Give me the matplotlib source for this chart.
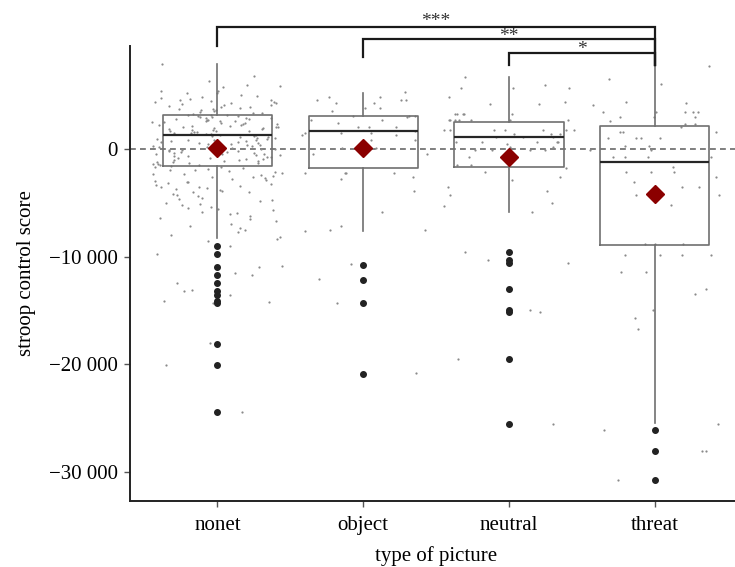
import matplotlib.pyplot as plt
import numpy as np
import pandas as pd
import seaborn as sns

# Data
categories = ['nonet', 'object', 'neutral', 'threat']
q1 = [-1580, -1770, -1670, -8930]
medians = [1300, 1670, 1120, -1210]
q3 = [3160, 3070, 2510, 2140]
whisker_low = [-8280, -7630, -5860, -25480]
whisker_high = [7900, 5210, 6700, 7810]
means = [90, 90, -740, -4190]
outliers = [
    [-9020, -9770, -10970, -11720, -12460, -13210, -13580, -14140, -14320, -18140, -20090, -24460],
    [-10790, -12180, -14320, -20930],
    [-9580, -10320, -10600, -13020, -14970, -15160, -19530, -25580],
    [-26130, -28090, -30780],
]

nonet_scores = [
    7880, 6820, 6350, 5920, 5870, 5810, 5430, 5360, 5240, 5190, 4980, 4930, 4870, 4710, 4690,
    4560, 4520, 4480, 4410, 4390, 4320, 4260, 4170, 4120, 4080, 3990, 3940, 3870, 3820, 3760,
    3710, 3640, 3590, 3510, 3430, 3380, 3320, 3270,
    3190, 3150, 3120, 3080, 3040, 2990, 2960, 2910, 2880, 2840, 2790, 2750, 2720, 2680, 2630,
    2590, 2560, 2510, 2470, 2430, 2380, 2350, 2300, 2270, 2210, 2180, 2140, 2090, 2050, 2010,
    1970, 1920, 1880, 1850, 1790, 1760, 1710, 1680, 1640, 1590, 1550, 1510, 1470, 1420, 1380,
    1340, 1290, 1260, 1220, 1170, 1130, 1090, 1040, 1000, 960, 920, 870, 830, 790, 740, 700,
    660, 610, 570, 530, 490, 440, 400, 360, 310, 270, 230, 180, 140, 100, 60, 10, -30, -80,
    -120, -160, -210, -250, -290, -340, -380, -420, -470, -510, -550, -600, -640, -690, -730,
    -770, -820, -860, -910, -950, -990, -1040, -1090, -1130, -1180, -1220, -1270, -1320, -1370,
    -1420, -1480, -1530, -1590,
    -1650, -1720, -1780, -1850, -1930, -1990, -2070, -2140, -2200, -2290, -2360, -2420, -2510,
    -2580, -2650, -2730, -2800, -2880, -2950, -3030, -3110, -3180, -3260, -3340, -3410, -3490,
    -3570, -3640, -3720, -3810, -3890, -3960, -4040,
    -4150, -4270, -4390, -4520, -4610, -4760, -4880, -4990, -5130, -5250, -5360, -5480, -5590,
    -5710, -5840, -5960, -6080, -6210,
    -6380, -6540, -6720, -6950, -7130, -7320, -7510, -7740, -7960, -8180, -8350, -8560,
    -9020, -9770, -10900, -10970, -11560, -11720, -12460, -13140, -13210, -13580, -14140,
    -14260, -14320, -18080, -20090, -24420,
]
object_scores = [
    5300, 4860, 4840, 4560, 4530, 4590, 4280, 4250, 3810, 3790, 3530, 3070, 3050, 3090, 3020,
    2700, 2680, 2420, 2050, 2030, 2070, 1680, 1490, 1510, 1470, 1300, 1280, 840, 860, 90, 110,
    -470, -450, -2230, -2210, -2250, -2240, -2600, -2790, -3910, -5860, -7160, -7630, -7530,
    -7520, -10700, -12090, -14320, -20830,
]
neutral_scores = [
    6720, 5950, 5670, 5650, 5690, 4860, 4400, 4190, 4170, 3260, 3240, 3280, 3250, 3230, 2700,
    2720, 2680, 2690, 2710, 2660, 2730, 1770, 1790, 1750, 1760, 1800, 1740, 1780, 1400, 1420,
    1380, 1120, 1100, 1140, 650, 630, 670, 640, 660, 470, 190, 170, -90, -70, -110, -100, -740,
    -1120, -1490, -1510, -1770, -2140, -2600, -2880, -3530, -3910, -4280, -5020, -5300, -5860,
    -9580, -10320, -10620, -13020, -15000, -15160, -19530, -25580,
]
threat_scores = [
    7720, 6510, 6050, 4370, 4280, 4090, 3440, 3420, 3460, 3450, 3430, 2980, 2960, 3000, 2610,
    2330, 2310, 2050, 1580, 1600, 1560, 1020, 1040, 1000, 1010, 280, 260, -90, -110, -740, -720,
    -760, -750, -1670, -2140, -2120, -2160, -2600, -3070, -3530, -3550, -4280, -4300, -5210,
    -8840, -8820, -8860, -9860, -9840, -9880, -9870, -11440, -11460, -13020, -13490, -14970,
    -15720, -16740, -25580, -26130, -28090, -28110, -30780,
]

comparisons = [('nonet', 'threat', '***'), ('object', 'threat', '**'), ('neutral', 'threat', '*')]

y_ticks = [-30000, -20000, -10000, 0]
y_tick_labels = ['\u221230 000', '\u221220 000', '\u221210 000', '0']

plt.rcParams['font.family'] = ['Liberation Serif', 'DejaVu Serif']
plt.rcParams['font.size'] = 15

df = pd.DataFrame({
    'picture': (['nonet'] * len(nonet_scores) + ['object'] * len(object_scores)
                + ['neutral'] * len(neutral_scores) + ['threat'] * len(threat_scores)),
    'score': nonet_scores + object_scores + neutral_scores + threat_scores,
})

fig = plt.figure(figsize=(7.35, 5.67), dpi=100)
ax = fig.add_axes([0.1769, 0.1164, 0.8327, 0.8025])

ax.axhline(0, color='#6a6a6a', lw=1.2, ls=(0, (3.5, 2.5)), zorder=0)

np.random.seed(7)
sns.stripplot(data=df, x='picture', y='score', order=categories, jitter=0.45,
              size=1.6, color='#8a8a8a', ax=ax, zorder=1)

stats = []
for i, name in enumerate(categories):
    stats.append(dict(label=name, q1=q1[i], med=medians[i], q3=q3[i],
                      whislo=whisker_low[i], whishi=whisker_high[i],
                      mean=means[i], fliers=outliers[i]))

line_c = '#707070'
ax.bxp(stats, positions=range(len(categories)), widths=0.75, showcaps=False,
       showmeans=True, manage_ticks=False,
       boxprops=dict(color=line_c, lw=1.2),
       whiskerprops=dict(color=line_c, lw=1.2),
       medianprops=dict(color='#262626', lw=1.6),
       flierprops=dict(marker='o', markerfacecolor='#222222', markeredgecolor='#222222',
                       markersize=4),
       meanprops=dict(marker='D', markerfacecolor='#8b0000', markeredgecolor='#8b0000',
                      markersize=9.5))

# significance brackets
bracket_y = [11350, 10230, 8930]
leg_bottom = [9580, 8560, 7810]
star_y = [11900, 10450, 9250]
for (a, b, stars), y, yl, ys in zip(comparisons, bracket_y, leg_bottom, star_y):
    xa, xb = categories.index(a), categories.index(b)
    ax.plot([xa, xa, xb, xb], [yl, y, y, 7810], color='#1a1a1a', lw=1.6,
            clip_on=False, solid_joinstyle='miter', zorder=5)
    ax.text((xa + xb) / 2, ys, stars, ha='center', va='center', fontsize=14,
            color='#333333')

ax.set_xlim(-0.6, 3.6)
ax.set_ylim(-32740, 9580)
ax.set_yticks(y_ticks)
ax.set_yticklabels(y_tick_labels)
ax.set_xticks(range(len(categories)))
ax.set_xticklabels(categories)

for s in ['top', 'right']:
    ax.spines[s].set_visible(False)
for s in ['left', 'bottom']:
    ax.spines[s].set_color('#222222')
    ax.spines[s].set_linewidth(1.4)
ax.tick_params(length=4, width=1, color='#555555', pad=5)
ax.tick_params(axis='x', pad=7)

ax.set_xlabel('type of picture', labelpad=8)
ax.set_ylabel('stroop control score', labelpad=9)

fig.savefig('out.png', dpi=100)
